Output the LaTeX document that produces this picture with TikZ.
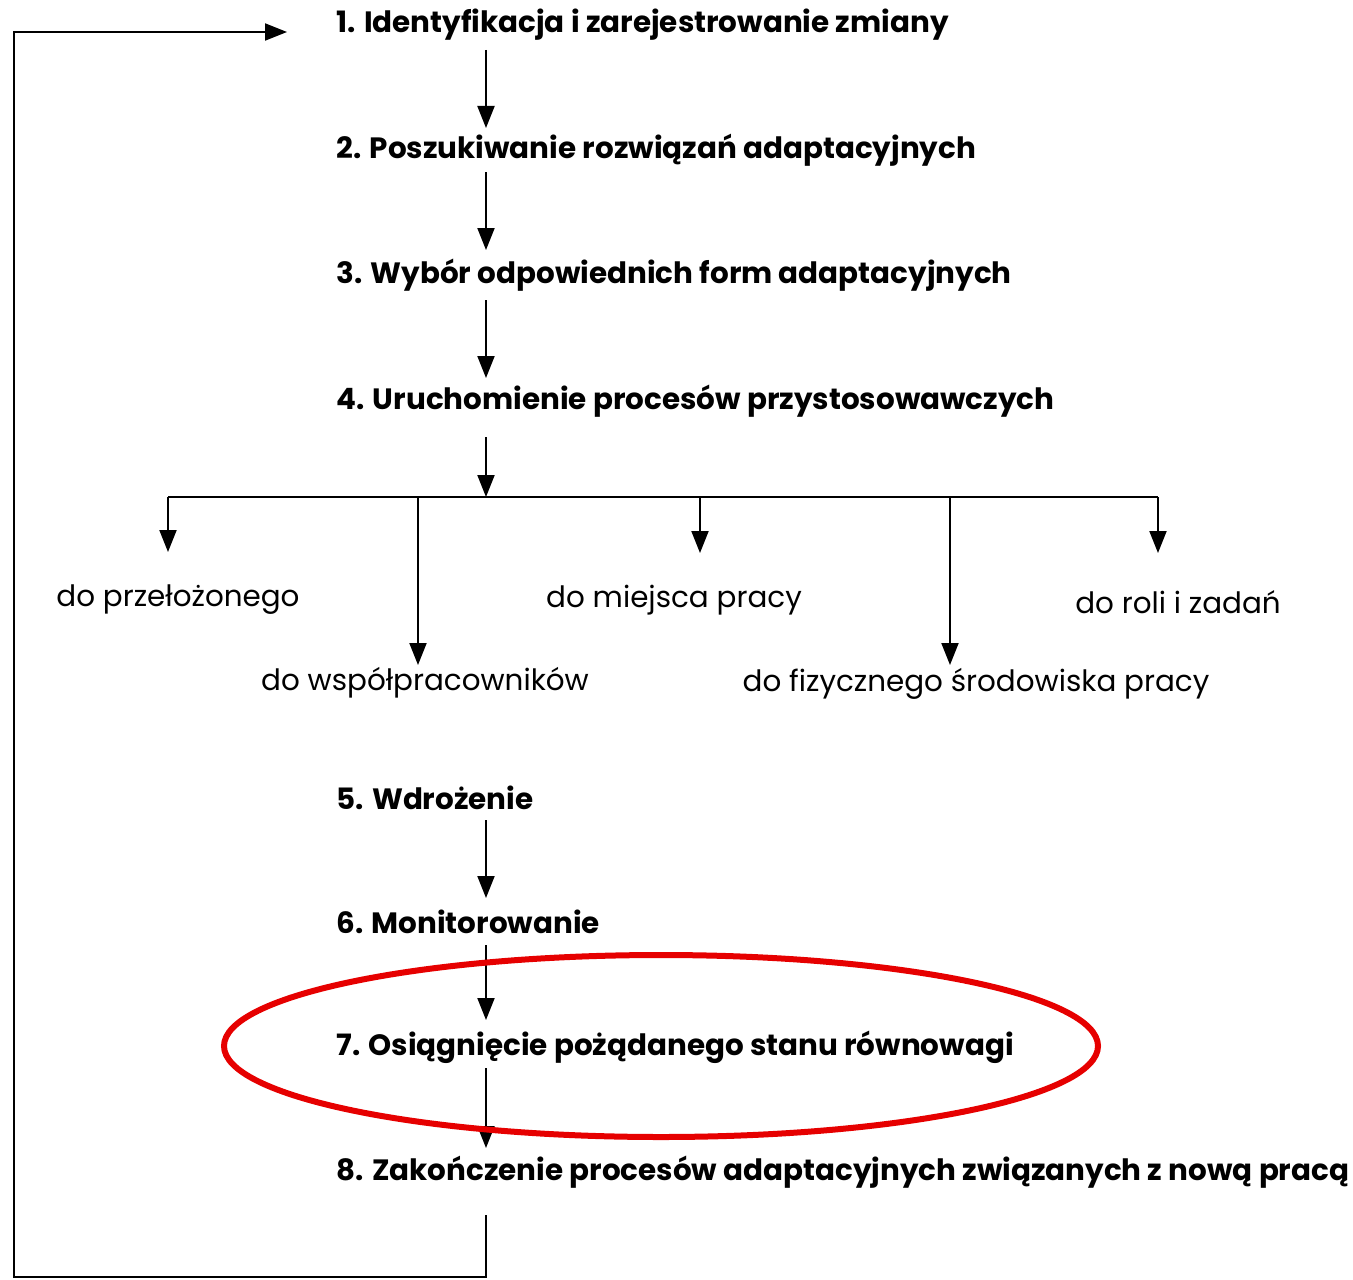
\documentclass[tikz,border=0pt]{standalone}
\usepackage{fontspec}
\setmainfont{Poppins}
\usetikzlibrary{arrows.meta}
\begin{document}
\begin{tikzpicture}[x=0.5pt,y=-0.5pt,
  stepnode/.style={anchor=west,inner sep=0pt,font=\fontsize{14.7}{17}\selectfont\bfseries},
  sub/.style={inner sep=0pt,font=\fontsize{14.7}{17}\selectfont},
  conn/.style={line width=1pt,-{Triangle[length=11pt,width=8.5pt]}},
  plain/.style={line width=1pt}]
\useasboundingbox (0,0) rectangle (1353,1279);
\node[stepnode] (s1) at (336,25) {1. Identyfikacja i zarejestrowanie zmiany};
\node[stepnode] (s2) at (336,150) {2. Poszukiwanie rozwiązań adaptacyjnych};
\node[stepnode] (s3) at (336,275) {3. Wybór odpowiednich form adaptacyjnych};
\node[stepnode] (s4) at (336,401) {4. Uruchomienie procesów przystosowawczych};
\node[sub] (b1) at (178,600) {do przełożonego};
\node[sub] (b2) at (425,683) {do współpracowników};
\node[sub] (b3) at (674,600) {do miejsca pracy};
\node[sub] (b4) at (976,684) {do fizycznego środowiska pracy};
\node[sub] (b5) at (1178,602) {do roli i zadań};
\node[stepnode] (s5) at (336,798) {5. Wdrożenie};
\node[stepnode] (s6) at (336,922) {6. Monitorowanie};
\node[stepnode] (s7) at (336,1047) {7. Osiągnięcie pożądanego stanu równowagi};
\node[stepnode] (s8) at (336,1172) {8. Zakończenie procesów adaptacyjnych związanych z nową pracą};
\coordinate (bar) at (486,497);
\coordinate (barL) at (168,497);
\coordinate (barR) at (1158,497);
\coordinate (loopA) at (486,1277);
\coordinate (loopB) at (14,1277);
\coordinate (loopC) at (14,32);
\coordinate (loopD) at (287,32);
\draw[conn] (486,50) -- (486,128);
\draw[conn] (486,172) -- (486,250);
\draw[conn] (486,300) -- (486,378);
\draw[conn] (486,437) -- (bar);
\draw[plain] (barL) -- (barR);
\draw[conn] (barL) -- (168,552);
\draw[conn] (418,497) -- (418,665);
\draw[conn] (700,497) -- (700,553);
\draw[conn] (950,497) -- (950,665);
\draw[conn] (barR) -- (1158,553);
\draw[conn] (486,820) -- (486,898);
\draw[conn] (486,945) -- (486,1020);
\draw[conn] (486,1068) -- (486,1148);
\draw[conn] (486,1215) -- (loopA) -- (loopB) -- (loopC) -- (loopD);
\draw[line width=3pt,draw={rgb,255:red,230;green,0;blue,0}] (661,1046) ellipse [x radius=437,y radius=91];
\end{tikzpicture}
\end{document}
